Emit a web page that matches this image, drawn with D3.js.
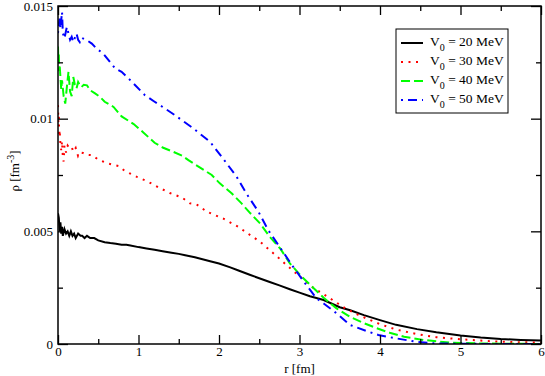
<!DOCTYPE html>
<html>
<head>
<meta charset="utf-8">
<script src="https://cdn.jsdelivr.net/npm/d3@7"></script>
<style>
  body { margin: 0; background: #fff; }
  text { font-family: "Liberation Serif", "Times New Roman", serif; }
</style>
</head>
<body>
<div id="chart"></div>
<script>
// radius grids and densities
var r20 = [0, 0.01, 0.02, 0.03, 0.04, 0.05, 0.06, 0.08, 0.1, 0.12, 0.14, 0.16, 0.18, 0.2, 0.22, 0.25, 0.28, 0.3, 0.33, 0.36, 0.4, 0.45, 0.5, 0.58, 0.65, 0.72, 0.79, 0.85, 0.9, 1.0, 1.1, 1.2, 1.3, 1.41, 1.5, 1.58, 1.7, 1.89, 2.0, 2.14, 2.25, 2.39, 2.5, 2.63, 2.75, 2.88, 3.0, 3.13, 3.3, 3.5, 3.63, 3.8, 4.0, 4.2, 4.46, 4.7, 5.0, 5.25, 5.5, 5.75, 6.0];
var rho20 = [0.0058, 0.0056, 0.0050, 0.0054, 0.0049, 0.0052, 0.0048, 0.0051, 0.0049, 0.0050, 0.0048, 0.0050, 0.0048, 0.0049, 0.0047, 0.0049, 0.0048, 0.0048, 0.0047, 0.0048, 0.0047, 0.0047, 0.0046, 0.00452, 0.00448, 0.00445, 0.0044, 0.0044, 0.00437, 0.0043, 0.00424, 0.00418, 0.00412, 0.00405, 0.004, 0.00394, 0.00385, 0.00367, 0.00357, 0.0034, 0.00325, 0.00306, 0.00292, 0.00275, 0.0026, 0.00243, 0.00228, 0.00212, 0.00195, 0.00163, 0.0015, 0.00128, 0.00106, 0.00085, 0.00066, 0.00052, 0.00038, 0.00029, 0.00022, 0.00018, 0.00015];

var r30 = [0, 0.005, 0.01, 0.015, 0.02, 0.03, 0.04, 0.05, 0.06, 0.07, 0.08, 0.1, 0.12, 0.14, 0.17, 0.19, 0.22, 0.25, 0.28, 0.31, 0.35, 0.42, 0.5, 0.56, 0.625, 0.75, 0.83, 0.98, 1.12, 1.25, 1.39, 1.54, 1.64, 1.72, 1.85, 2.05, 2.24, 2.36, 2.51, 2.7, 2.84, 2.96, 3.17, 3.36, 3.57, 3.73, 3.88, 4.0, 4.2, 4.46, 4.7, 5.0, 5.25, 5.5, 5.75, 6.0];
var rho30 = [0.0106, 0.0098, 0.0102, 0.0092, 0.0095, 0.0089, 0.0086, 0.0090, 0.0083, 0.0081, 0.0088, 0.0085, 0.0088, 0.0087, 0.00875, 0.00853, 0.0087, 0.00834, 0.0085, 0.00848, 0.0084, 0.00838, 0.00819, 0.0081, 0.00801, 0.0079, 0.00768, 0.00742, 0.0072, 0.00695, 0.0067, 0.0065, 0.00624, 0.0062, 0.00587, 0.00557, 0.0052, 0.0049, 0.00454, 0.00395, 0.0035, 0.00313, 0.0025, 0.00207, 0.00158, 0.00129, 0.00106, 0.00088, 0.00064, 0.00044, 0.0003, 0.00021, 0.00015, 0.0001, 0.00008, 0.00006];

var r40 = [0, 0.005, 0.01, 0.015, 0.02, 0.03, 0.04, 0.05, 0.07, 0.09, 0.11, 0.13, 0.15, 0.17, 0.19, 0.21, 0.23, 0.25, 0.27, 0.29, 0.32, 0.36, 0.4, 0.46, 0.52, 0.58, 0.69, 0.79, 0.94, 1.06, 1.2, 1.3, 1.43, 1.54, 1.62, 1.76, 1.91, 2.01, 2.16, 2.28, 2.39, 2.51, 2.63, 2.76, 2.88, 3.03, 3.17, 3.3, 3.46, 3.63, 3.79, 3.96, 4.12, 4.3, 4.54, 4.87, 5.3, 5.7, 6.0];
var rho40 = [0.0132, 0.0125, 0.0129, 0.0121, 0.0124, 0.01185, 0.0113, 0.0117, 0.0110, 0.01067, 0.0114, 0.01208, 0.0112, 0.0110, 0.01185, 0.0115, 0.01134, 0.01163, 0.0115, 0.0114, 0.0115, 0.01148, 0.01126, 0.01112, 0.01097, 0.01075, 0.01052, 0.0101, 0.00976, 0.00939, 0.00893, 0.00872, 0.00853, 0.00836, 0.00816, 0.00784, 0.0075, 0.00713, 0.00668, 0.00624, 0.0058, 0.00535, 0.00476, 0.00424, 0.00358, 0.00298, 0.0025, 0.00205, 0.00158, 0.0012, 0.00094, 0.0007, 0.0005, 0.00032, 0.00018, 0.00006, 0.00002, 0.00001, 0];

var r50 = [0, 0.01, 0.02, 0.03, 0.05, 0.06, 0.08, 0.11, 0.13, 0.15, 0.17, 0.19, 0.21, 0.23, 0.25, 0.27, 0.29, 0.31, 0.36, 0.42, 0.48, 0.56, 0.63, 0.71, 0.79, 0.92, 1.08, 1.2, 1.33, 1.45, 1.68, 1.89, 2.05, 2.22, 2.34, 2.49, 2.61, 2.78, 2.92, 3.07, 3.21, 3.3, 3.46, 3.63, 3.83, 3.98, 4.2, 4.45, 4.66, 5.0, 5.5, 6.0];
var rho50 = [0.0138, 0.0142, 0.01444, 0.0140, 0.01474, 0.0138, 0.01356, 0.01407, 0.01378, 0.0135, 0.01363, 0.0134, 0.0136, 0.01378, 0.0135, 0.0134, 0.0136, 0.01356, 0.01348, 0.01333, 0.01311, 0.01289, 0.01259, 0.01223, 0.01208, 0.01163, 0.01104, 0.01075, 0.01045, 0.01016, 0.00957, 0.00897, 0.00823, 0.00742, 0.00668, 0.00587, 0.00506, 0.00417, 0.00343, 0.00269, 0.00203, 0.0018, 0.00136, 0.00084, 0.00058, 0.0004, 0.00025, 0.0001, 0.00003, 0.00001, 0, 0];

var legendLabels = ["20", "30", "40", "50"];
var xTicks = [0, 1, 2, 3, 4, 5, 6];
var yTicks = [0, 0.005, 0.01, 0.015];

var series = [
    {r: r20, rho: rho20, color: "#000000", dash: null},
    {r: r30, rho: rho30, color: "#ff0000", dash: "2,5.5"},
    {r: r40, rho: rho40, color: "#00ff00", dash: "9,4"},
    {r: r50, rho: rho50, color: "#0000ff", dash: "2,5,9,5"}
];

var W = 545, H = 376;
var pL = 58, pR = 541, pT = 6, pB = 344;

var svg = d3.select("#chart").append("svg")
    .attr("width", W)
    .attr("height", H);

var x = d3.scaleLinear().domain([0, 6]).range([pL, pR]);
var y = d3.scaleLinear().domain([0, 0.015]).range([pB, pT]);

svg.append("clipPath").attr("id", "clip")
    .append("rect")
    .attr("x", pL).attr("y", pT)
    .attr("width", pR - pL).attr("height", pB - pT);

var line = d3.line()
    .x(function(d) { return x(d[0]); })
    .y(function(d) { return y(d[1]); });

var plot = svg.append("g").attr("clip-path", "url(#clip)");

series.forEach(function(s) {
    var pts = s.r.map(function(v, i) { return [v, s.rho[i]]; });
    plot.append("path")
        .datum(pts)
        .attr("fill", "none")
        .attr("stroke", s.color)
        .attr("stroke-width", 2)
        .attr("stroke-dasharray", s.dash)
        .attr("d", line);
});

// minor tick positions
var xMinor = d3.range(0.5, 6, 1);
var yMinor = [0.0025, 0.0075, 0.0125];

function styleAxis(g) {
    g.select(".domain").remove();
    g.selectAll("line").attr("stroke", "#000").attr("stroke-width", 1.3);
    g.selectAll("text").attr("font-size", 13).attr("fill", "#000")
        .attr("font-family", null);
}

// bottom
svg.append("g").attr("transform", "translate(0," + pB + ")")
    .call(d3.axisBottom(x).tickValues(xTicks).tickSize(-9).tickPadding(3).tickFormat(d3.format("d")))
    .call(styleAxis);
svg.append("g").attr("transform", "translate(0," + pB + ")")
    .call(d3.axisBottom(x).tickValues(xMinor).tickSize(-5).tickFormat(""))
    .call(styleAxis);
// top
svg.append("g").attr("transform", "translate(0," + pT + ")")
    .call(d3.axisTop(x).tickValues(xTicks).tickSize(-9).tickFormat(""))
    .call(styleAxis);
svg.append("g").attr("transform", "translate(0," + pT + ")")
    .call(d3.axisTop(x).tickValues(xMinor).tickSize(-5).tickFormat(""))
    .call(styleAxis);
// left
svg.append("g").attr("transform", "translate(" + pL + ",0)")
    .call(d3.axisLeft(y).tickValues(yTicks).tickSize(-10).tickPadding(5)
        .tickFormat(function(d) { return d === 0 ? "0" : String(d); }))
    .call(styleAxis);
svg.append("g").attr("transform", "translate(" + pL + ",0)")
    .call(d3.axisLeft(y).tickValues(yMinor).tickSize(-5).tickFormat(""))
    .call(styleAxis);
// right
svg.append("g").attr("transform", "translate(" + pR + ",0)")
    .call(d3.axisRight(y).tickValues(yTicks).tickSize(-10).tickFormat(""))
    .call(styleAxis);
svg.append("g").attr("transform", "translate(" + pR + ",0)")
    .call(d3.axisRight(y).tickValues(yMinor).tickSize(-5).tickFormat(""))
    .call(styleAxis);

// frame
svg.append("rect")
    .attr("x", pL).attr("y", pT)
    .attr("width", pR - pL).attr("height", pB - pT)
    .attr("fill", "none").attr("stroke", "#000").attr("stroke-width", 1.5);

// axis titles
svg.append("text")
    .attr("x", (pL + pR) / 2).attr("y", 373)
    .attr("text-anchor", "middle").attr("font-size", 13)
    .text("r [fm]");

var yt = svg.append("text")
    .attr("transform", "translate(19,171) rotate(-90)")
    .attr("text-anchor", "middle").attr("font-size", 13);
yt.append("tspan").text("ρ  [fm");
yt.append("tspan").attr("dy", -5).attr("font-size", 10).text("-3");
yt.append("tspan").attr("dy", 5).text("]");

// legend
var lg = svg.append("g");
lg.append("rect")
    .attr("x", 396).attr("y", 29).attr("width", 112).attr("height", 84)
    .attr("fill", "#fff").attr("stroke", "#000").attr("stroke-width", 1);

series.forEach(function(s, i) {
    var ly = 43 + i * 19;
    lg.append("line")
        .attr("x1", 401).attr("x2", 423).attr("y1", ly).attr("y2", ly)
        .attr("stroke", s.color).attr("stroke-width", 2)
        .attr("stroke-dasharray", s.dash);
    var t = lg.append("text")
        .attr("x", 430).attr("y", ly + 3).attr("font-size", 13.5);
    t.append("tspan").text("V");
    t.append("tspan").attr("dy", 5).attr("font-size", 10).text("0");
    t.append("tspan").attr("dy", -5).text(" = " + legendLabels[i] + " MeV");
});
</script>
</body>
</html>
